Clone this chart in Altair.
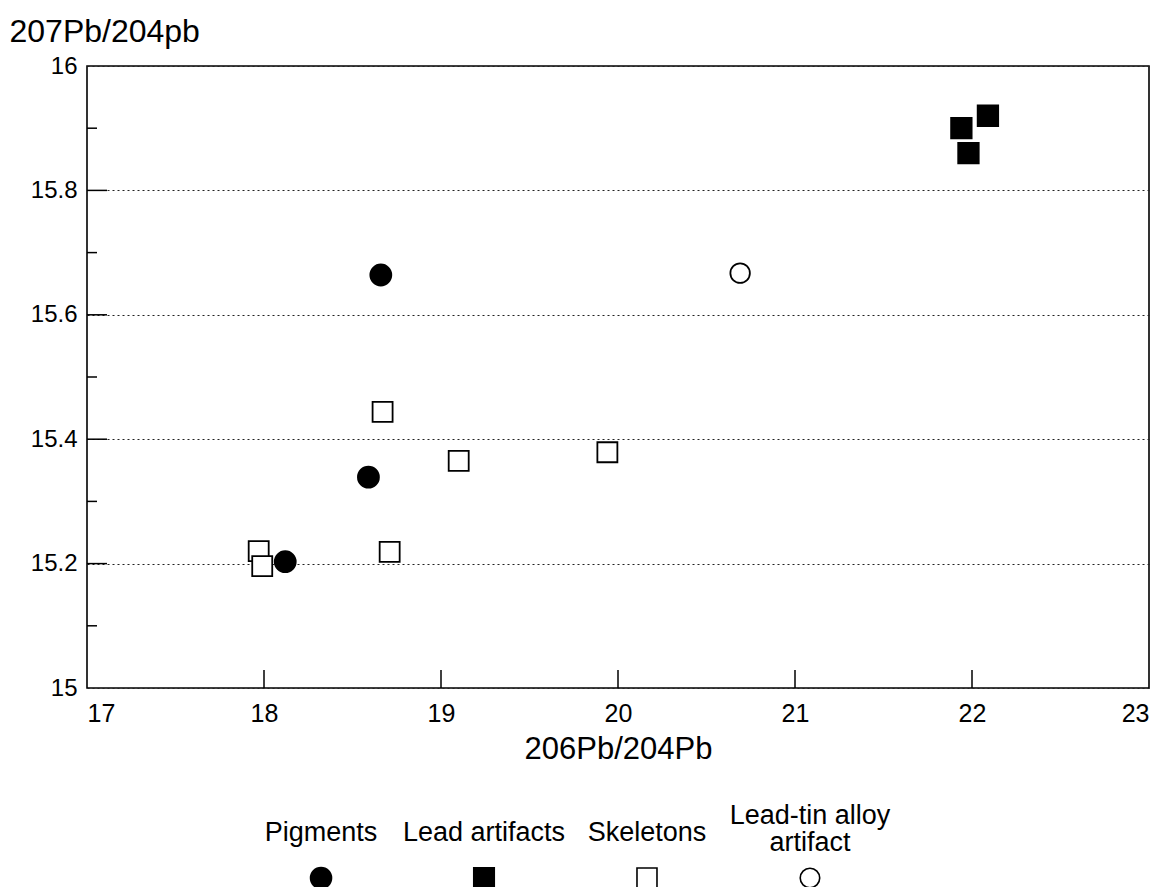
import altair as alt
import pandas as pd

# ---- data ----
categories = ["Pigments", "Lead artifacts", "Skeletons", "Lead-tin alloy artifact"]
legend_labels = ["Pigments", "Lead artifacts", "Skeletons", "Lead-tin alloy\nartifact"]

pig_x = [18.66, 18.59, 18.12]
pig_y = [15.664, 15.339, 15.203]
lead_x = [21.94, 21.98, 22.09]
lead_y = [15.900, 15.860, 15.920]
skel_x = [18.67, 19.10, 19.94, 18.71, 17.97, 17.99]
skel_y = [15.444, 15.365, 15.379, 15.219, 15.220, 15.196]
alloy_x = [20.69]
alloy_y = [15.667]

x_ticks = [17, 18, 19, 20, 21, 22, 23]
x_inner_ticks = [18, 19, 20, 21, 22]
y_labels = [15, 15.2, 15.4, 15.6, 15.8, 16]
y_major = [15.2, 15.4, 15.6, 15.8]
y_minor = [15.1, 15.3, 15.5, 15.7, 15.9]

FONT = "Liberation Sans"
W, H = 1062, 622

rows = []
for cat, xs, ys in [(categories[0], pig_x, pig_y), (categories[1], lead_x, lead_y),
                    (categories[2], skel_x, skel_y), (categories[3], alloy_x, alloy_y)]:
    for a, b in zip(xs, ys):
        rows.append({"cat": cat, "x": a, "y": b})
df = pd.DataFrame(rows)

shape_scale = alt.Scale(domain=categories, range=["circle", "square", "square", "circle"])
fill_scale = alt.Scale(domain=categories, range=["black", "black", "white", "white"])
fop_scale = alt.Scale(domain=categories, range=[1, 1, 0, 0])
size_scale = alt.Scale(domain=categories, range=[440, 380, 300, 360])

xs = alt.Scale(domain=[17, 23], nice=False, zero=False)
ys = alt.Scale(domain=[15, 16], nice=False, zero=False)

base_x = alt.X("x:Q", scale=xs, axis=alt.Axis(
    values=x_ticks, ticks=False, domain=False, grid=False, format="~g",
    labelFontSize=25, labelFont=FONT, labelColor="black", labelPadding=13,
    title="206Pb/204Pb", titleFont=FONT, titleFontSize=31, titleFontWeight="normal",
    titleColor="black", titlePadding=8))
base_y = alt.Y("y:Q", scale=ys, axis=alt.Axis(
    values=y_labels, ticks=False, domain=False, grid=True, format="~g",
    gridColor="#222", gridDash=[2, 3], gridWidth=1,
    labelFontSize=24, labelFont=FONT, labelColor="black", labelPadding=10,
    title="207Pb/204pb", titleFont=FONT, titleFontSize=32, titleFontWeight="normal",
    titleColor="black", titleAngle=0, titleAlign="left", titleBaseline="alphabetic",
    titleX=-78, titleY=-25))

points = alt.Chart(df).mark_point(filled=False, stroke="black", strokeWidth=1.8, opacity=1).encode(
    x=base_x, y=base_y,
    shape=alt.Shape("cat:N", scale=shape_scale, legend=None),
    fill=alt.Fill("cat:N", scale=fill_scale, legend=None),
    fillOpacity=alt.FillOpacity("cat:N", scale=fop_scale, legend=None),
    size=alt.Size("cat:N", scale=size_scale, legend=None),
)

xt = alt.Chart(pd.DataFrame({"x": x_inner_ticks})).mark_rule(color="black", strokeWidth=1.5).encode(
    x=alt.X("x:Q", scale=xs), y=alt.value(H), y2=alt.value(H - 18))
ytM = alt.Chart(pd.DataFrame({"y": y_major})).mark_rule(color="black", strokeWidth=1.5).encode(
    y=alt.Y("y:Q", scale=ys), x=alt.value(0), x2=alt.value(20))
ytm = alt.Chart(pd.DataFrame({"y": y_minor})).mark_rule(color="black", strokeWidth=1.5).encode(
    y=alt.Y("y:Q", scale=ys), x=alt.value(0), x2=alt.value(10))

main = alt.layer(xt, ytM, ytm, points).properties(
    width=W, height=H, view=alt.ViewBackground(stroke="black", strokeWidth=1.6))

# ---- legend drawn as its own small chart: labels above symbols ----
ldf = pd.DataFrame({"cat": categories, "label": legend_labels,
                    "multi": [("\n" in s) for s in legend_labels]})
lx = alt.X("cat:N", sort=categories,
           scale=alt.Scale(type="band", paddingInner=0, paddingOuter=0.936), axis=None)
lsize = alt.Scale(domain=categories, range=[330, 240, 240, 300])
leg_sym = alt.Chart(ldf).mark_point(filled=False, stroke="black", strokeWidth=1.6, opacity=1).encode(
    x=lx, y=alt.value(72),
    shape=alt.Shape("cat:N", scale=shape_scale, legend=None),
    fill=alt.Fill("cat:N", scale=fill_scale, legend=None),
    fillOpacity=alt.FillOpacity("cat:N", scale=fop_scale, legend=None),
    size=alt.Size("cat:N", scale=lsize, legend=None),
)
txt_style = dict(font=FONT, fontSize=27, color="black", lineBreak="\n",
                 baseline="middle", align="center", lineHeight=27)
leg_txt1 = alt.Chart(ldf).transform_filter("!datum.multi").mark_text(**txt_style).encode(
    x=lx, y=alt.value(27), text="label:N")
leg_txt2 = alt.Chart(ldf).transform_filter("datum.multi").mark_text(dy=-17, **txt_style).encode(
    x=lx, y=alt.value(27), text="label:N")
legend = alt.layer(leg_sym, leg_txt1, leg_txt2).properties(
    width=957, height=80, view=alt.ViewBackground(strokeWidth=0))

chart = alt.vconcat(main, legend, spacing=37).properties(
    padding={"left": 0, "top": 6, "right": 0, "bottom": 0})

chart.save("out.html", embed_options={"renderer": "svg", "actions": False})
